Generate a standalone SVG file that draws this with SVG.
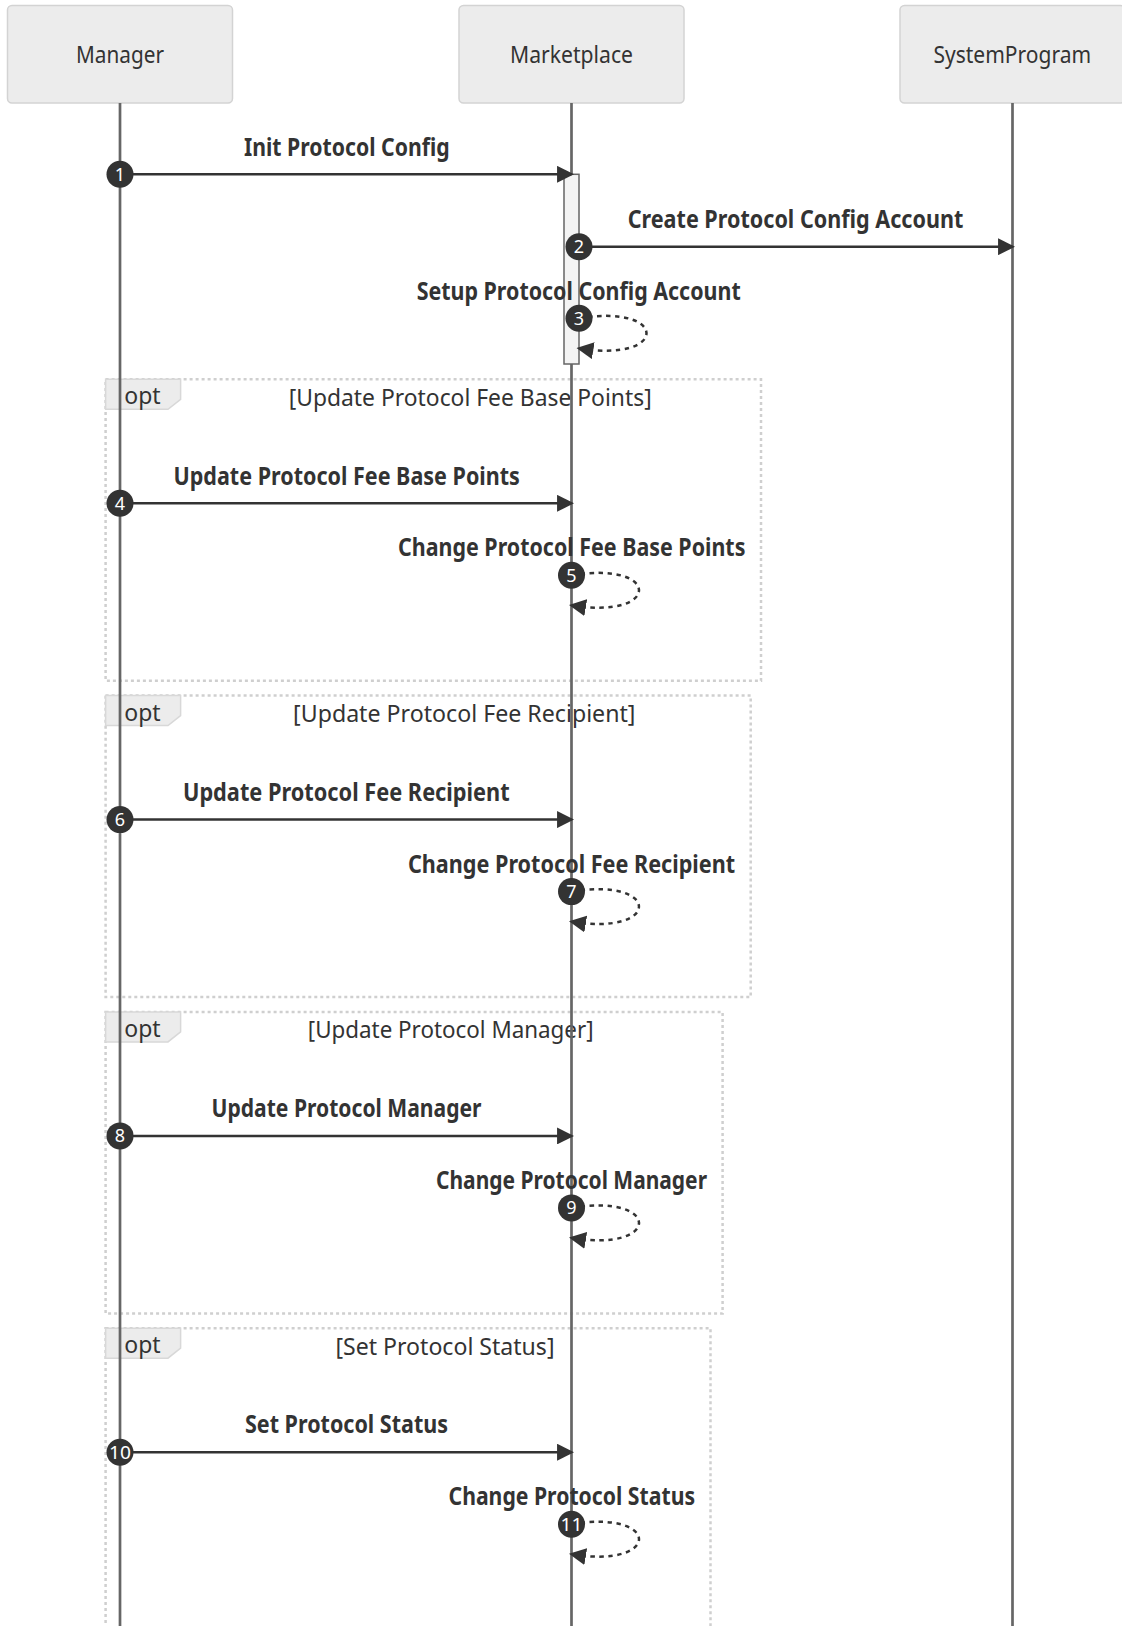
<svg xmlns="http://www.w3.org/2000/svg" width="1122" height="1626" viewBox="0 0 1122 1626">
  <style>
    .actor-box { fill: #ececec; stroke: #d3d3d3; stroke-width: 1.5; }
    .actor-text { font-family: "Noto Sans", "Liberation Sans", sans-serif; font-size: 23px; fill: #333; text-anchor: middle; }
    .lifeline { stroke: #666; stroke-width: 2.7; }
    .activation { fill: #f4f4f4; stroke: #666; stroke-width: 1.5; }
    .msg { stroke: #333; stroke-width: 2.5; fill: none; }
    .msg-dashed { stroke: #333; stroke-width: 2.5; fill: none; stroke-dasharray: 4.5 4.5; }
    .msg-text { font-family: "Noto Sans", "Liberation Sans", sans-serif; font-size: 25px; font-weight: bold; fill: #333; text-anchor: middle; }
    .seq-dot { fill: #333; }
    .seq-num { font-family: "Noto Sans", "Liberation Sans", sans-serif; font-size: 18px; fill: #fff; text-anchor: middle; }
    .loop-line { fill: none; stroke: #cfcfcf; stroke-width: 2.5; stroke-dasharray: 3 3; }
    .label-box { fill: #ececec; stroke: #d8d8d8; stroke-width: 1.5; }
    .label-text { font-family: "Noto Sans", "Liberation Sans", sans-serif; font-size: 23px; fill: #333; text-anchor: middle; }
  </style>
  <defs>
    <marker id="arrowhead" viewBox="0 0 10 10" refX="8.5" refY="5" markerUnits="userSpaceOnUse" markerWidth="17" markerHeight="17" orient="auto">
      <path d="M0,0 L10,5 L0,10 z" fill="#333"/>
    </marker>
  </defs>

  <rect width="1122" height="1626" fill="#fff"/>

  <!-- opt frames -->
  <g id="opt-fee-base-points">
    <rect class="loop-line" x="105.6" y="379.3" width="655.4" height="301.5"/>
    <polygon class="label-box" points="105.6,379.3 180.6,379.3 180.6,399.3 168,409.3 105.6,409.3"/>
    <text class="label-text" x="142.5" y="404.3">opt</text>
    <text class="label-text" x="470.2" y="405.8" textLength="363" lengthAdjust="spacingAndGlyphs">[Update Protocol Fee Base Points]</text>
  </g>
  <g id="opt-fee-recipient">
    <rect class="loop-line" x="105.6" y="695.6" width="645.1" height="301.5"/>
    <polygon class="label-box" points="105.6,695.6 180.6,695.6 180.6,715.6 168,725.6 105.6,725.6"/>
    <text class="label-text" x="142.5" y="720.6">opt</text>
    <text class="label-text" x="464.3" y="722.1" textLength="342.4" lengthAdjust="spacingAndGlyphs">[Update Protocol Fee Recipient]</text>
  </g>
  <g id="opt-manager">
    <rect class="loop-line" x="105.6" y="1011.9" width="617" height="301.5"/>
    <polygon class="label-box" points="105.6,1011.9 180.6,1011.9 180.6,1031.9 168,1041.9 105.6,1041.9"/>
    <text class="label-text" x="142.5" y="1036.9">opt</text>
    <text class="label-text" x="450.7" y="1038.4" textLength="285.7" lengthAdjust="spacingAndGlyphs">[Update Protocol Manager]</text>
  </g>
  <g id="opt-status">
    <rect class="loop-line" x="105.6" y="1328.2" width="604.9" height="301.5"/>
    <polygon class="label-box" points="105.6,1328.2 180.6,1328.2 180.6,1348.2 168,1358.2 105.6,1358.2"/>
    <text class="label-text" x="142.5" y="1353.2">opt</text>
    <text class="label-text" x="445" y="1354.7" textLength="219" lengthAdjust="spacingAndGlyphs">[Set Protocol Status]</text>
  </g>

  <!-- participants -->
  <g id="manager">
    <rect class="actor-box" x="7.5" y="5.5" width="225" height="97.5" rx="4.5"/>
    <line class="lifeline" x1="120" y1="103" x2="120" y2="1626"/>
    <text class="actor-text" x="120" y="63.3" textLength="88" lengthAdjust="spacingAndGlyphs">Manager</text>
  </g>
  <g id="marketplace">
    <rect class="actor-box" x="459" y="5.5" width="225" height="97.5" rx="4.5"/>
    <line class="lifeline" x1="571.5" y1="103" x2="571.5" y2="1626"/>
    <text class="actor-text" x="571.5" y="63.3" textLength="123" lengthAdjust="spacingAndGlyphs">Marketplace</text>
    <rect class="activation" x="564" y="174.3" width="15" height="189.7"/>
  </g>
  <g id="systemprogram">
    <rect class="actor-box" x="900" y="5.5" width="225" height="97.5" rx="4.5"/>
    <line class="lifeline" x1="1012.5" y1="103" x2="1012.5" y2="1626"/>
    <text class="actor-text" x="1012.3" y="63.3" textLength="157.7" lengthAdjust="spacingAndGlyphs">SystemProgram</text>
  </g>

  <!-- messages -->
  <g id="connectors">
    <line class="msg" x1="120" y1="174.3" x2="571.5" y2="174.3" marker-end="url(#arrowhead)"/>
    <line class="msg" x1="579" y1="246.7" x2="1012.5" y2="246.7" marker-end="url(#arrowhead)"/>
    <path class="msg-dashed" d="M579,318.3 C669,303.3 669,363.3 579,348.3" marker-end="url(#arrowhead)"/>

    <line class="msg" x1="120" y1="503.3" x2="571.5" y2="503.3" marker-end="url(#arrowhead)"/>
    <path class="msg-dashed" d="M571.5,575.3 C661.5,560.3 661.5,620.3 571.5,605.3" marker-end="url(#arrowhead)"/>

    <line class="msg" x1="120" y1="819.6" x2="571.5" y2="819.6" marker-end="url(#arrowhead)"/>
    <path class="msg-dashed" d="M571.5,891.6 C661.5,876.6 661.5,936.6 571.5,921.6" marker-end="url(#arrowhead)"/>

    <line class="msg" x1="120" y1="1135.9" x2="571.5" y2="1135.9" marker-end="url(#arrowhead)"/>
    <path class="msg-dashed" d="M571.5,1207.9 C661.5,1192.9 661.5,1252.9 571.5,1237.9" marker-end="url(#arrowhead)"/>

    <line class="msg" x1="120" y1="1452.2" x2="571.5" y2="1452.2" marker-end="url(#arrowhead)"/>
    <path class="msg-dashed" d="M571.5,1524.2 C661.5,1509.2 661.5,1569.2 571.5,1554.2" marker-end="url(#arrowhead)"/>
  </g>

  <!-- message labels -->
  <g id="message-labels">
    <text class="msg-text" x="346.8" y="156" textLength="205.7" lengthAdjust="spacingAndGlyphs">Init Protocol Config</text>
    <text class="msg-text" x="795.5" y="228.3" textLength="335.6" lengthAdjust="spacingAndGlyphs">Create Protocol Config Account</text>
    <text class="msg-text" x="578.7" y="300" textLength="324" lengthAdjust="spacingAndGlyphs">Setup Protocol Config Account</text>
    <text class="msg-text" x="346.7" y="484.5" textLength="346.4" lengthAdjust="spacingAndGlyphs">Update Protocol Fee Base Points</text>
    <text class="msg-text" x="571.7" y="556.3" textLength="347.4" lengthAdjust="spacingAndGlyphs">Change Protocol Fee Base Points</text>
    <text class="msg-text" x="346.3" y="800.8" textLength="326.7" lengthAdjust="spacingAndGlyphs">Update Protocol Fee Recipient</text>
    <text class="msg-text" x="571.5" y="872.6" textLength="327.2" lengthAdjust="spacingAndGlyphs">Change Protocol Fee Recipient</text>
    <text class="msg-text" x="346.5" y="1117.1" textLength="270" lengthAdjust="spacingAndGlyphs">Update Protocol Manager</text>
    <text class="msg-text" x="571.5" y="1188.9" textLength="271" lengthAdjust="spacingAndGlyphs">Change Protocol Manager</text>
    <text class="msg-text" x="346.5" y="1433.4" textLength="203" lengthAdjust="spacingAndGlyphs">Set Protocol Status</text>
    <text class="msg-text" x="571.8" y="1505.2" textLength="246.5" lengthAdjust="spacingAndGlyphs">Change Protocol Status</text>
  </g>

  <!-- sequence numbers -->
  <g id="sequence-numbers">
    <circle class="seq-dot" cx="120" cy="174.3" r="13.5"/><text class="seq-num" x="120" y="180.6">1</text>
    <circle class="seq-dot" cx="579" cy="246.7" r="13.5"/><text class="seq-num" x="579" y="253">2</text>
    <circle class="seq-dot" cx="579" cy="318.3" r="13.5"/><text class="seq-num" x="579" y="324.6">3</text>
    <circle class="seq-dot" cx="120" cy="503.3" r="13.5"/><text class="seq-num" x="120" y="509.6">4</text>
    <circle class="seq-dot" cx="571.5" cy="575.3" r="13.5"/><text class="seq-num" x="571.5" y="581.6">5</text>
    <circle class="seq-dot" cx="120" cy="819.6" r="13.5"/><text class="seq-num" x="120" y="825.9">6</text>
    <circle class="seq-dot" cx="571.5" cy="891.6" r="13.5"/><text class="seq-num" x="571.5" y="897.9">7</text>
    <circle class="seq-dot" cx="120" cy="1135.9" r="13.5"/><text class="seq-num" x="120" y="1142.2">8</text>
    <circle class="seq-dot" cx="571.5" cy="1207.9" r="13.5"/><text class="seq-num" x="571.5" y="1214.2">9</text>
    <circle class="seq-dot" cx="120" cy="1452.2" r="13.5"/><text class="seq-num" x="120" y="1458.5" textLength="22" lengthAdjust="spacingAndGlyphs">10</text>
    <circle class="seq-dot" cx="571.5" cy="1524.2" r="13.5"/><text class="seq-num" x="571.5" y="1530.5" textLength="22" lengthAdjust="spacingAndGlyphs">11</text>
  </g>
</svg>
